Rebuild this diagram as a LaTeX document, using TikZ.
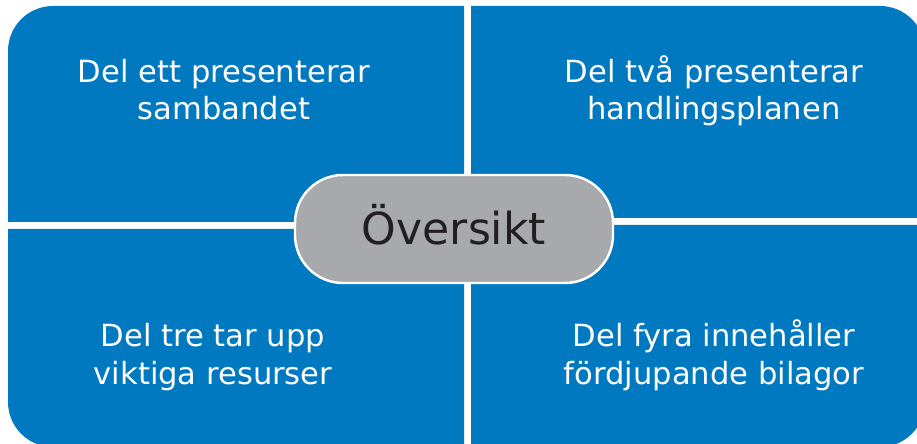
\documentclass[tikz,border=0pt]{standalone}
\usepackage{fontspec}
\setmainfont{DejaVu Sans}
\definecolor{partblue}{RGB}{0,121,193}
\definecolor{pillgray}{RGB}{168,169,173}
\definecolor{pilltext}{RGB}{35,31,32}

\begin{document}
\begin{tikzpicture}[quad/.style={fill=partblue},
        parttext/.style={text=white, align=center, anchor=base, font=\fontsize{17.4}{21.2}\selectfont},
        pill/.style={fill=pillgray, draw=white, line width=1.4pt, rounded corners=0.96cm, minimum width=6.36cm, minimum height=2.16cm, inner sep=0pt, text depth=0.2cm, text=pilltext, font=\fontsize{25.1}{30}\selectfont}]
        \useasboundingbox (0,0) rectangle (18.34,8.86);
        \fill[quad] (9.28,8.74)--(9.28,4.42)--(0.16,4.42)--(0.16,7.84) arc[start angle=180, end angle=90, radius=0.9]--cycle;
        \fill[quad] (9.42,8.74)--(17.6,8.74) arc[start angle=90, end angle=0, radius=0.9]--(18.5,4.50)--(9.42,4.50)--cycle;
        \fill[quad] (9.28,4.28)--(0.16,4.28)--(0.16,0.82) arc[start angle=180, end angle=270, radius=0.9]--(9.28,-0.08)--cycle;
        \fill[quad] (9.42,4.36)--(18.5,4.36)--(18.5,0.82) arc[start angle=0, end angle=-90, radius=0.9]--(9.42,-0.08)--cycle;
        \node[parttext] (ett) at (4.48,6.46) {Del ett presenterar\\sambandet};
        \node[parttext] (tva) at (14.28,6.46) {Del två presenterar\\handlingsplanen};
        \node[parttext] (tre) at (4.26,1.18) {Del tre tar upp\\viktiga resurser};
        \node[parttext] (fyra) at (14.28,1.18) {Del fyra innehåller\\fördjupande bilagor};
        \node[pill] (oversikt) at (9.08,4.28) {Översikt};
\end{tikzpicture}
\end{document}
